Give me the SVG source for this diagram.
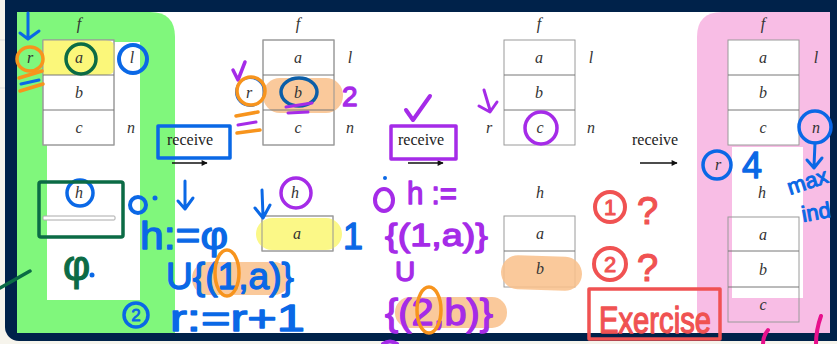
<svg xmlns="http://www.w3.org/2000/svg" width="837" height="344" viewBox="0 0 837 344">
<defs>
<style>
.cell{fill:#fff;stroke:#9a9a9a;stroke-width:1}
.sep{stroke:#777;stroke-width:1}
.lbl{font-family:"Liberation Serif",serif;font-style:italic;font-size:16px;fill:#333;text-anchor:middle}
.rcv{font-family:"Liberation Serif",serif;font-size:16px;fill:#222}
.hw{font-family:"Liberation Sans",sans-serif;font-weight:normal;stroke-linejoin:round}
.pen{fill:none;stroke-linecap:round;stroke-linejoin:round}
.blue{stroke:#0a68e6}
.purple{stroke:#a52be8}
.orange{stroke:#f7941d}
.red{stroke:#f05252}
</style>
<marker id="ah" viewBox="0 0 10 10" refX="9" refY="5" markerWidth="8" markerHeight="6" orient="auto" markerUnits="userSpaceOnUse">
<path d="M0,0 L10,5 L0,10 Z" fill="#111"/>
</marker>
</defs>

<!-- page background -->
<rect x="0" y="0" width="837" height="344" fill="#f6f4ec"/>
<line x1="0" y1="40" x2="5" y2="40" stroke="#ddd" stroke-width="1"/>
<line x1="0" y1="88" x2="5" y2="88" stroke="#ddd" stroke-width="1"/>
<!-- navy frame -->
<rect x="5" y="-20" width="900" height="361" rx="14" fill="#00224a"/>
<rect x="17" y="12" width="813" height="321" fill="#ffffff"/>

<!-- green panel -->
<g id="green-panel">
<path d="M17,12 H150 Q175,12 175,37 V333 H17 Z" fill="#80f77c"/>
<rect x="47" y="42" width="93" height="258" fill="#ffffff"/>
</g>
<!-- pink panel -->
<g id="pink-panel">
<path d="M722,12 H830 V333 H697 V37 Q697,12 722,12 Z" fill="#f8bde5"/>
<rect x="732" y="147" width="71" height="151" fill="#ffffff"/>
</g>

<!-- state 1 -->
<g id="state1">
<text class="lbl" x="79" y="29">f</text>
<rect x="43" y="40" width="71" height="105" class="cell"/>
<path d="M43,40 H106 Q115,40 115,50 V66 Q115,75 106,75 H43 Z" fill="#fbf77a"/>
<rect x="43" y="40" width="71" height="105" fill="none" stroke="#9a9a9a"/>
<line x1="43" y1="75" x2="114" y2="75" class="sep"/>
<line x1="43" y1="110" x2="114" y2="110" class="sep"/>
<text class="lbl" x="79" y="63">a</text>
<text class="lbl" x="79" y="98">b</text>
<text class="lbl" x="79" y="133">c</text>
<text class="lbl" x="30" y="63">r</text>
<text class="lbl" x="132" y="63">l</text>
<text class="lbl" x="131" y="133">n</text>
<text class="lbl" x="79" y="198">h</text>
<rect x="43" y="216" width="72" height="4" rx="1" fill="#fff" stroke="#aaa"/>
</g>

<!-- state 2 -->
<g id="state2">
<text class="lbl" x="298" y="29">f</text>
<rect x="263" y="40" width="71" height="105" class="cell"/>
<rect x="263" y="78" width="80" height="35" rx="17" fill="#f9c089" opacity="0.85"/>
<rect x="263" y="40" width="71" height="105" fill="none" stroke="#9a9a9a"/>
<line x1="263" y1="75" x2="334" y2="75" class="sep"/>
<line x1="263" y1="110" x2="334" y2="110" class="sep"/>
<text class="lbl" x="298" y="63">a</text>
<text class="lbl" x="298" y="98">b</text>
<text class="lbl" x="298" y="133">c</text>
<text class="lbl" x="249" y="98">r</text>
<text class="lbl" x="350" y="63">l</text>
<text class="lbl" x="350" y="133">n</text>
<text class="lbl" x="295" y="198">h</text>
<rect x="262" y="216" width="71" height="35" class="cell"/>
<rect x="256" y="218" width="86" height="32" rx="16" fill="#fbf77a" opacity="0.9"/>
<rect x="262" y="216" width="71" height="35" fill="none" stroke="#9a9a9a"/>
<text class="lbl" x="297" y="239">a</text>
</g>

<!-- state 3 -->
<g id="state3">
<text class="lbl" x="539" y="29">f</text>
<rect x="504" y="40" width="71" height="105" class="cell"/>
<line x1="504" y1="75" x2="575" y2="75" class="sep"/>
<line x1="504" y1="110" x2="575" y2="110" class="sep"/>
<text class="lbl" x="539" y="63">a</text>
<text class="lbl" x="539" y="98">b</text>
<text class="lbl" x="540" y="133">c</text>
<text class="lbl" x="489" y="133">r</text>
<text class="lbl" x="591" y="63">l</text>
<text class="lbl" x="591" y="133">n</text>
<text class="lbl" x="540" y="198">h</text>
<rect x="504" y="216" width="71" height="71" class="cell"/>
<line x1="504" y1="251" x2="575" y2="251" class="sep"/>
<rect x="501" y="256" width="81" height="34" rx="17" fill="#f9c089" opacity="0.85" transform="rotate(2 541 273)"/>
<text class="lbl" x="540" y="239">a</text>
<text class="lbl" x="540" y="274">b</text>
</g>

<!-- state 4 -->
<g id="state4">
<text class="lbl" x="763" y="29">f</text>
<rect x="728" y="40" width="71" height="105" class="cell"/>
<line x1="728" y1="75" x2="799" y2="75" class="sep"/>
<line x1="728" y1="110" x2="799" y2="110" class="sep"/>
<text class="lbl" x="763" y="63">a</text>
<text class="lbl" x="763" y="98">b</text>
<text class="lbl" x="763" y="133">c</text>
<text class="lbl" x="816" y="63">l</text>
<text class="lbl" x="816" y="133">n</text>
<text class="lbl" x="718" y="170">r</text>
<text class="lbl" x="762" y="198">h</text>
<rect x="728" y="217" width="71" height="105" fill="none" stroke="#9a9a9a"/>
<line x1="728" y1="251" x2="799" y2="251" class="sep"/>
<line x1="728" y1="287" x2="799" y2="287" class="sep"/>
<text class="lbl" x="763" y="240">a</text>
<text class="lbl" x="763" y="275">b</text>
<text class="lbl" x="763" y="310">c</text>
</g>

<!-- connectors -->
<g id="connectors">
<text class="rcv" x="167" y="145">receive</text>
<line x1="172" y1="163" x2="207" y2="163" stroke="#111" stroke-width="1.3" marker-end="url(#ah)"/>
<text class="rcv" x="398" y="145">receive</text>
<line x1="408" y1="163" x2="443" y2="163" stroke="#111" stroke-width="1.3" marker-end="url(#ah)"/>
<text class="rcv" x="632" y="145">receive</text>
<line x1="640" y1="163" x2="677" y2="163" stroke="#111" stroke-width="1.3" marker-end="url(#ah)"/>
</g>

<!-- annotations: state 1 -->
<g id="annot1">
<path class="pen blue" stroke-width="3" d="M28,13 V38 M20,33 L28,39 L39,31"/>
<ellipse cx="30" cy="59" rx="13" ry="12" class="pen orange" stroke-width="3.5"/>
<path class="pen orange" stroke-width="3.5" d="M19,78 L42,71 M20,91 L43,84"/>
<path class="pen blue" stroke-width="3" d="M21,84 L39,80"/>
<circle cx="81" cy="59" r="15" class="pen" stroke="#0b6b45" stroke-width="3.5"/>
<circle cx="133" cy="59" r="14" class="pen blue" stroke-width="4"/>
<circle cx="80" cy="193" r="13" class="pen blue" stroke-width="3.5"/>
<rect x="39" y="182" width="84" height="55" rx="2" class="pen" stroke="#0b6b45" stroke-width="3.5"/>
<text class="hw" x="63" y="280" font-size="42" fill="#0b6b45" stroke="#0b6b45" stroke-width="1.2">φ</text>
<circle cx="92" cy="275" r="2.5" fill="#0a68e6"/>
<path class="pen" stroke="#0b6b45" stroke-width="3.5" d="M0,288 L30,271"/>
<rect x="158" y="126" width="72" height="32" class="pen blue" stroke-width="3.5"/>
</g>

<!-- annotations: blue formulas -->
<g id="annot-blue">
<ellipse cx="138" cy="205" rx="8" ry="8" fill="none" class="blue" stroke-width="4"/>
<circle cx="155" cy="198" r="2.5" fill="#0a68e6"/>
<path class="pen blue" stroke-width="3" d="M185,181 V208 M178,201 L185,209 L193,198"/>
<text class="hw" x="140" y="249" font-size="38" textLength="88" lengthAdjust="spacingAndGlyphs" fill="#0a68e6" stroke="#0a68e6" stroke-width="1.3">h:=φ</text>
<rect x="192" y="262" width="98" height="33" rx="16" fill="#f9c089" opacity="0.85"/>
<text class="hw" x="166" y="289" font-size="36" textLength="128" lengthAdjust="spacingAndGlyphs" fill="#0a68e6" stroke="#0a68e6" stroke-width="1.3">U{(1,a)}</text>
<ellipse cx="227" cy="273" rx="12" ry="23" class="pen orange" stroke-width="3.5"/>
<circle cx="136" cy="315" r="12" class="pen blue" stroke-width="3.5"/>
<text class="hw" x="136" y="321" font-size="17" text-anchor="middle" fill="#0a68e6" stroke="#0a68e6" stroke-width="0.8">2</text>
<text class="hw" x="170" y="331" font-size="36" textLength="135" lengthAdjust="spacingAndGlyphs" fill="#0a68e6" stroke="#0a68e6" stroke-width="1.3">r:=r+1</text>
</g>

<!-- annotations: state 2 -->
<g id="annot2">
<path class="pen purple" stroke-width="3.5" d="M233,70 L238,80 L245,62"/>
<circle cx="250" cy="92" r="14" class="pen" stroke="#0a68e6" stroke-width="2"/>
<circle cx="251" cy="91" r="14" class="pen orange" stroke-width="3.5"/>
<path class="pen orange" stroke-width="3.5" d="M236,116 L258,112 M237,133 L260,130"/>
<path class="pen purple" stroke-width="3" d="M238,125 L256,122"/>
<ellipse cx="299" cy="92" rx="18" ry="14" class="pen" stroke="#0b5ea8" stroke-width="3.5"/>
<path class="pen purple" stroke-width="3" d="M286,107 L312,103 M288,113 L308,112"/>
<text class="hw" x="342" y="106" font-size="28" fill="#a52be8" stroke="#a52be8" stroke-width="1.3">2</text>
<circle cx="296" cy="193" r="15" class="pen purple" stroke-width="3.5"/>
<path class="pen blue" stroke-width="3" d="M262,190 L263,216 M255,208 L263,218 L270,205"/>
<text class="hw" x="343" y="249" font-size="36" fill="#0a68e6" stroke="#0a68e6" stroke-width="1.3">1</text>
</g>

<!-- annotations: state 3 -->
<g id="annot3">
<path class="pen purple" stroke-width="4" d="M406,110 L413,120 L430,96"/>
<rect x="391" y="126" width="65" height="33" class="pen purple" stroke-width="3.5"/>
<path class="pen purple" stroke-width="3" d="M484,90 L490,110 M479,106 L490,112 L497,102"/>
<circle cx="541" cy="128" r="16" class="pen purple" stroke-width="3.5"/>
<circle cx="385" cy="178" r="2" fill="#0a68e6"/>
<ellipse cx="384" cy="200" rx="9" ry="11" class="pen purple" stroke-width="4"/>
<text class="hw" x="407" y="204" font-size="32" textLength="50" lengthAdjust="spacingAndGlyphs" fill="#a52be8" stroke="#a52be8" stroke-width="1.3">h :=</text>
<text class="hw" x="385" y="246" font-size="32" textLength="103" lengthAdjust="spacingAndGlyphs" fill="#a52be8" stroke="#a52be8" stroke-width="1.3">{(1,a)}</text>
<text class="hw" x="395" y="281" font-size="28" fill="#a52be8" stroke="#a52be8" stroke-width="1.3">U</text>
<rect x="395" y="297" width="112" height="31" rx="15" fill="#f9c089" opacity="0.85"/>
<text class="hw" x="385" y="325" font-size="36" textLength="108" lengthAdjust="spacingAndGlyphs" fill="#a52be8" stroke="#a52be8" stroke-width="1.3">{(2,b)}</text>
<ellipse cx="429" cy="310" rx="12" ry="23" class="pen orange" stroke-width="3.5"/>
<path class="pen purple" stroke-width="4" d="M383,344 Q390,339 397,344"/>
</g>

<!-- annotations: red -->
<g id="annot-red">
<circle cx="610" cy="207" r="15" class="pen red" stroke-width="4"/>
<text class="hw" x="610" y="215" font-size="22" text-anchor="middle" fill="#f05252" stroke="#f05252" stroke-width="1">1</text>
<text class="hw" x="637" y="224" font-size="38" fill="#f05252" stroke="#f05252" stroke-width="1.2">?</text>
<circle cx="610" cy="264" r="16" class="pen red" stroke-width="4"/>
<text class="hw" x="610" y="272" font-size="22" text-anchor="middle" fill="#f05252" stroke="#f05252" stroke-width="1">2</text>
<text class="hw" x="637" y="281" font-size="38" fill="#f05252" stroke="#f05252" stroke-width="1.2">?</text>
<rect x="589" y="289" width="131" height="50" class="pen red" stroke-width="3.5"/>
<text class="hw" x="599" y="333" font-size="36" textLength="112" lengthAdjust="spacingAndGlyphs" fill="#f05252" stroke="#f05252" stroke-width="1.3">Exercise</text>
</g>

<!-- annotations: state 4 -->
<g id="annot4">
<circle cx="815" cy="127" r="16" class="pen blue" stroke-width="3.5"/>
<path class="pen blue" stroke-width="3" d="M815,143 L814,166 M807,160 L814,168 L822,158"/>
<circle cx="717" cy="165" r="14" class="pen blue" stroke-width="3.5"/>
<text class="hw" x="742" y="178" font-size="36" fill="#0a68e6" stroke="#0a68e6" stroke-width="1.3">4</text>
<text class="hw" x="790" y="195" font-size="22" fill="#0a68e6" stroke="#0a68e6" stroke-width="1" transform="rotate(-18 790 195)">max</text>
<text class="hw" x="803" y="222" font-size="22" fill="#0a68e6" stroke="#0a68e6" stroke-width="1" transform="rotate(-10 803 222)">ind</text>
<path class="pen" stroke="#e8108c" stroke-width="4" d="M768,330 Q763,336 763,344 M821,316 Q816,330 816,344"/>
</g>
</svg>
